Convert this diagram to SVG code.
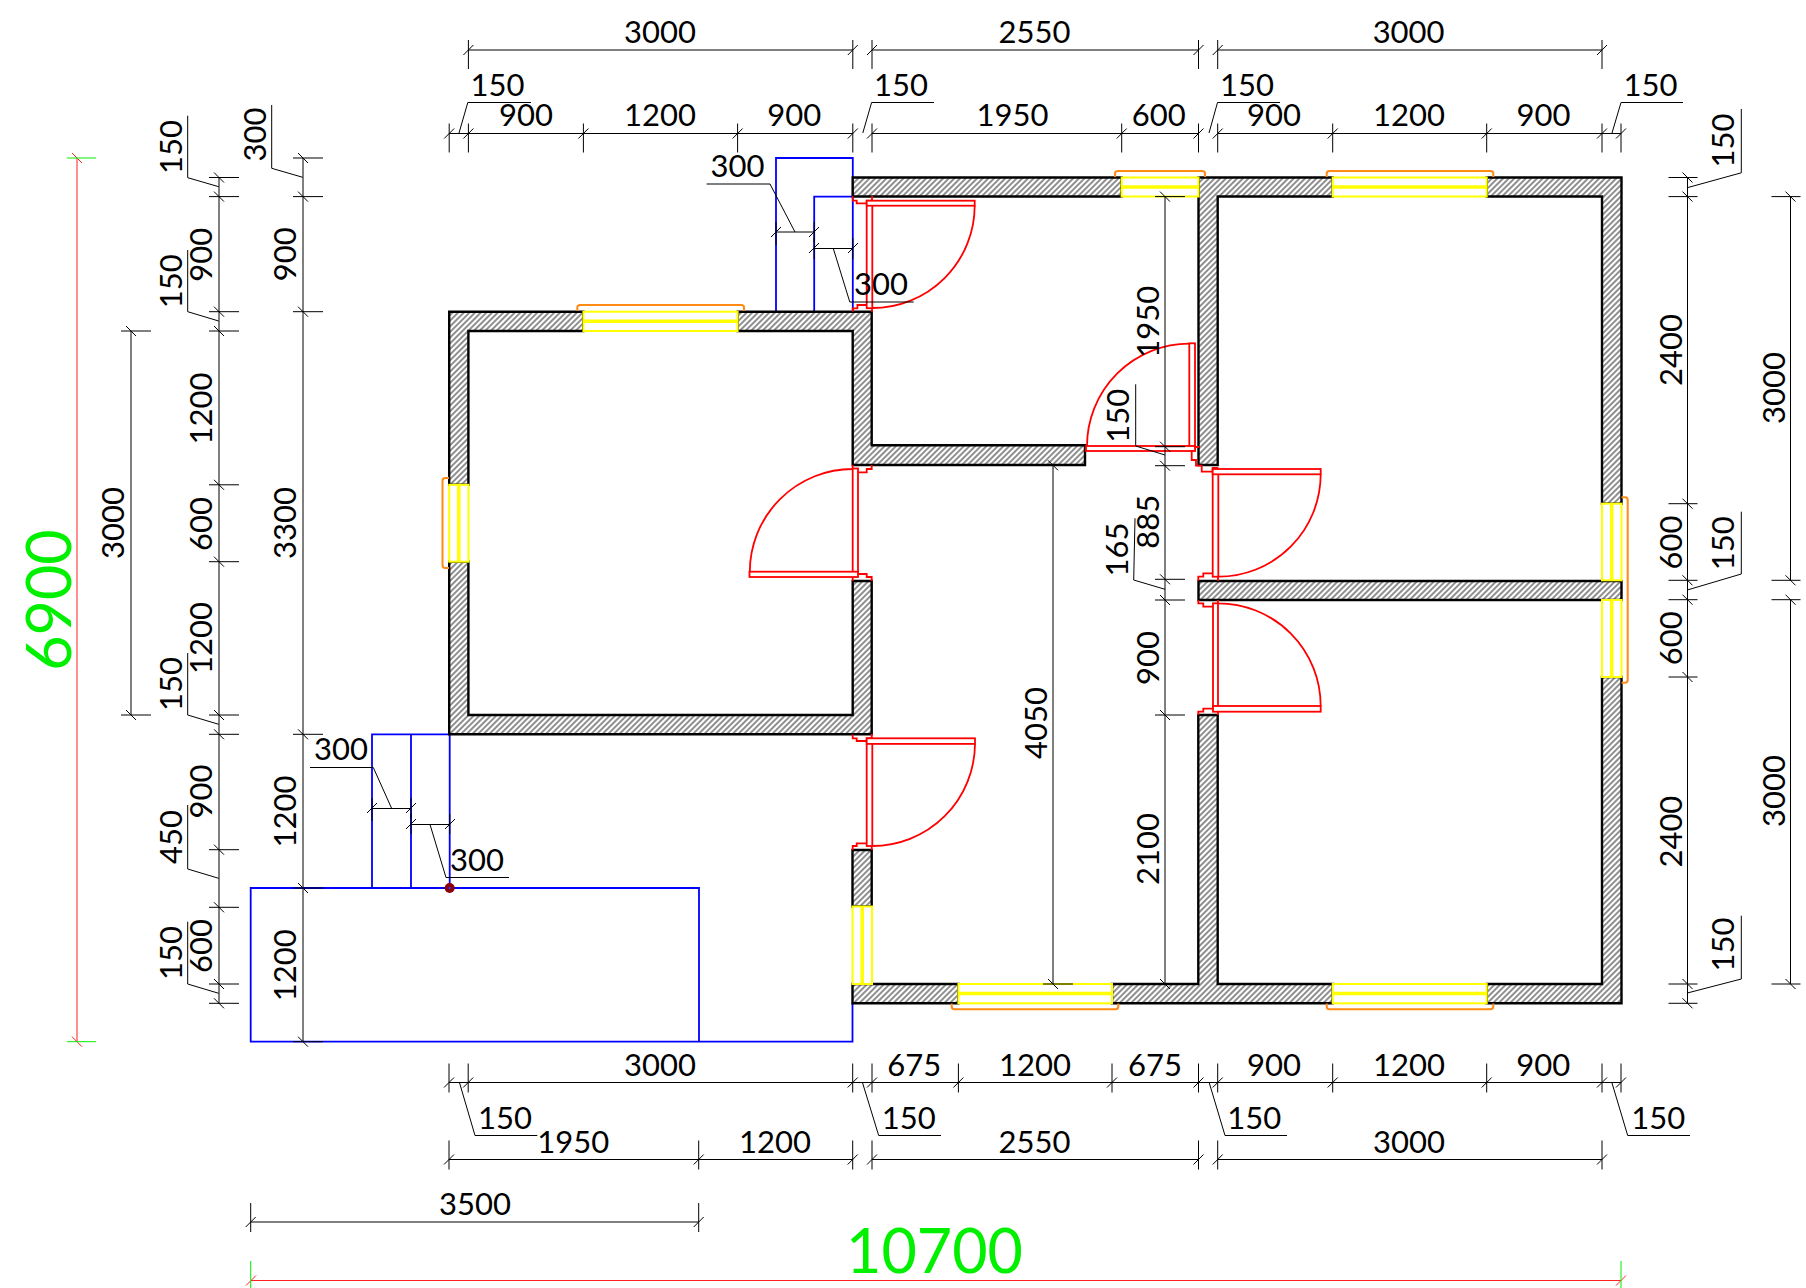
<svg xmlns="http://www.w3.org/2000/svg" xmlns:xlink="http://www.w3.org/1999/xlink" width="1806" height="1288" viewBox="0 0 1806 1288">
<style>
.t{font-family:Lato,"Liberation Sans",sans-serif;font-size:31px;text-anchor:middle;fill:#000}
.g{font-family:Lato,"Liberation Sans",sans-serif;font-size:61px;text-anchor:middle;fill:#00f000}
.w{fill:url(#hatch);stroke:#000;stroke-width:2.4}
.win{fill:#fff;stroke:#ffff00;stroke-width:2}
.mid{stroke:#ffff00;stroke-width:3.5;fill:none}
.br{fill:none;stroke:#ff8a14;stroke-width:2}
.d{fill:none;stroke:#ff0000;stroke-width:1.8}
.dr{fill:#fff;stroke:#ff0000;stroke-width:1.8}
.bl{fill:none;stroke:#0000ff;stroke-width:1.8}
.dim{fill:none;stroke:#000;stroke-width:1}
.red{fill:none;stroke:#ff2020;stroke-width:1}
.grn{fill:none;stroke:#00f000;stroke-width:1}
</style>
<defs>
<pattern id="hatch" width="4" height="4" patternUnits="userSpaceOnUse" patternTransform="rotate(-45)"><rect width="4" height="4" fill="#fff"/><rect width="4" height="2" fill="#8f8f8f"/></pattern>
<path id="ht" class="dim" d="M0-10V19M-5 5L5-5"/>
<path id="hb" class="dim" d="M0-19V10M-5 5L5-5"/>
<path id="vr" class="dim" d="M-10 0H20M-5-5L5 5"/>
<path id="vl" class="dim" d="M-19 0H10M-5-5L5 5"/>
</defs>
<rect width="1806" height="1288" fill="#fff"/>

<g id="blue-outlines">
<path class="bl" d="M776 311.7V158H852.8V311.7M814.2 311.7V196.6H852.8"/>
<path class="bl" d="M372 888V734.3H449.7V888M411 734.3V888"/>
<path class="bl" d="M250.7 888H699V1041.7H250.7ZM699 1041.7H852.5V1003"/>
</g>

<g id="walls">
<path class="w" d="M852.7 177.5H1121.7V196.5H852.7Z"/>
<path class="w" d="M1198.5 177.5H1332.7V196.5H1217.7V465H1198.5Z"/>
<path class="w" d="M1486.7 177.5H1621.5V503.7H1602V196.5H1486.7Z"/>
<path class="w" d="M1198.5 581H1621.5V600H1198.5Z"/>
<path class="w" d="M1198.3 715H1217.7V984H1332.7V1003.3H1112V984H1198.3Z"/>
<path class="w" d="M1486.7 984H1602V677H1621.5V1003.3H1486.7Z"/>
<path class="w" d="M852.5 984H958.4V1003.3H852.5Z"/>
<path class="w" d="M852.5 850H871.7V906.5H852.5Z"/>
<path class="w" d="M449.2 311.7H583.4V331H468.4V484.8H449.2Z"/>
<path class="w" d="M737.6 311.7H871.7V445.3H1085V465H852.7V331H737.6Z"/>
<path class="w" d="M449.2 561.7H468.4V715H852.7V581H871.7V734.3H449.2Z"/>
</g>

<g id="windows">
<g id="window-top-left"><rect class="win" x="583.4" y="311.7" width="154.2" height="19.3"/><path class="mid" d="M583.4 321.3H737.6"/><path class="br" d="M577.3 311V307.5Q577.3 305 580 305H741.5Q744 305 744 307.5V311"/></g>
<g id="window-top-mid"><rect class="win" x="1121.7" y="177.5" width="76.8" height="19"/><path class="mid" d="M1121.7 187H1198.5"/><path class="br" d="M1115 177V173.5Q1115 171 1118 171H1202Q1205 171 1205 173.5V177"/></g>
<g id="window-top-right"><rect class="win" x="1332.7" y="177.5" width="154" height="19"/><path class="mid" d="M1332.7 187H1486.7"/><path class="br" d="M1326.7 177V173.5Q1326.7 171 1329.5 171H1490.5Q1493.3 171 1493.3 173.5V177"/></g>
<g id="window-right-a"><rect class="win" x="1602" y="503.7" width="19.5" height="76.6"/><path class="mid" d="M1611.7 503.7V580.3"/></g>
<g id="window-right-b"><rect class="win" x="1602" y="600" width="19.5" height="77"/><path class="mid" d="M1611.7 600V677"/></g>
<path class="br" d="M1621.5 497.3H1625Q1627.7 497.3 1627.7 500V680Q1627.7 682.7 1625 682.7H1621.5"/>
<g id="window-left"><rect class="win" x="449.2" y="484.8" width="19.2" height="76.9"/><path class="mid" d="M458.8 484.8V561.7"/><path class="br" d="M449 478H445.3Q442.5 478 442.5 481V565Q442.5 568 445.3 568H449"/></g>
<g id="window-bottom-mid"><rect class="win" x="958.4" y="984" width="153.6" height="19.3"/><path class="mid" d="M958.4 993.6H1112"/><path class="br" d="M951.7 1003.5V1006.5Q951.7 1009.3 954.5 1009.3H1115.5Q1118.3 1009.3 1118.3 1006.5V1003.5"/></g>
<g id="window-bottom-right"><rect class="win" x="1332.7" y="984" width="154" height="19.3"/><path class="mid" d="M1332.7 993.6H1486.7"/><path class="br" d="M1326.7 1003.5V1006.5Q1326.7 1009.3 1329.5 1009.3H1490.5Q1493.3 1009.3 1493.3 1006.5V1003.5"/></g>
<g id="window-lower-left"><rect class="win" x="852.5" y="906.5" width="19.5" height="77.5"/><path class="mid" d="M862.2 906.5V984"/></g>
</g>

<g id="doors">
<g id="door-1"><rect class="dr" x="852.7" y="468.5" width="5.3" height="105"/><rect class="dr" x="749.5" y="571.7" width="108.5" height="5.3"/><path class="d" d="M852.7 469A103 103 0 0 0 749.8 571.7M871.7 465V469H866.7V472.3H858M871.7 581V577H866.7V574H858M852.7 581V577M852.7 465V468.5"/></g>
<g id="door-2"><rect class="dr" x="866.7" y="738.3" width="5.6" height="107.7"/><rect class="dr" x="866.7" y="738.3" width="108.3" height="5.6"/><path class="d" d="M975 744A102.7 102.7 0 0 1 872.3 846M852.7 734.5V738.3H856.7V741H866.7M852.7 850V846H856.7V843.3H866.7M871.7 734V738M871.7 850V846"/></g>
<g id="door-3"><rect class="dr" x="866.7" y="200.7" width="5.6" height="107.5"/><rect class="dr" x="866.7" y="200.7" width="108" height="5"/><path class="d" d="M974.7 205.7A102.5 102.5 0 0 1 872.3 308M852.7 196V200.7H856.7V203.3H866.7M852.7 311.7V308.3H857.4V305H866.7M872 196V200.7M872 311.7V308.3"/></g>
<g id="door-4"><rect class="dr" x="1189.3" y="343.3" width="5.7" height="107"/><rect class="dr" x="1086" y="446" width="109" height="5"/><path class="d" d="M1189.3 343.7A102.5 102.5 0 0 0 1087 446M1191.7 450V460H1196V465.7H1201.7V471.7H1212.7V468H1218.3M1195 447H1199.3"/></g>
<g id="door-5"><rect class="dr" x="1212.7" y="469" width="5.6" height="107.7"/><rect class="dr" x="1212.7" y="469" width="108" height="5.3"/><path class="d" d="M1320.7 474.3A102.5 102.5 0 0 1 1218.3 576.7M1198.3 581V576.7H1203.3V573.3H1212.7M1218 581V576.7"/></g>
<g id="door-6"><rect class="dr" x="1213" y="603.3" width="5" height="103.4"/><rect class="dr" x="1213" y="706" width="107.7" height="5.7"/><path class="d" d="M1218 603.3A102.7 102.7 0 0 1 1320.7 706M1198.3 600V603.3H1203.3V606.7H1213M1198.3 715V711.7H1203.3V708.7H1213M1218 715V711.7M1218 600V603.3"/></g>
</g>

<g id="dimensions">
<path class="dim" d="M468.4 50H852.8M872 50H1198.5M1217.7 50H1602"/>
<path class="dim" d="M449.2 133.5H852.8M872 133.5H1198.5M1217.7 133.5H1621"/>
<path class="dim" d="M449 1082.5H1621M449 1159.5H852.7M872 1159.5H1198.5M1217.7 1159.5H1602M250.7 1222H698.7"/>
<path class="dim" d="M219 177.5V1003.3M303 158V1041.7M131 331V715M1687.5 177.5V1003.3M1790.5 196.6V580.3M1790.5 599.7V984M1165 196.6V984M1053 465V984"/>
<path class="dim" d="M776 232H814.2M814.2 248.5H852.8M372 808.5H411M411 824.5H449.7"/>
<path class="dim" d="M776 222V245M814.2 222V242M814.2 238V259M852.8 238V259M372 798V821M411 798V818M411 814V834M449.7 814V834M771 237L781 227M809 237L819 227M809 253L819 243M848 253L858 243M367 813L377 803M406 813L416 803M406 829L416 819M445 829L455 819"/>
<g id="leaders">
<path class="dim" d="M459 133L467.8 102.5H531M862.8 133L871.6 102.5H934M1209 133L1217.5 102.5H1280M1612 133L1621 102.5H1683"/>
<path class="dim" d="M459.3 1082L475 1135.5H537.3M862.3 1082L878.7 1135.5H941M1209 1082L1225 1135.5H1287M1611.7 1082L1627.7 1135.5H1690"/>
<path class="dim" d="M187.7 115.7V177.7L218.7 186.7M187.7 250V311.7L218.7 321M187.7 653V715L218.7 724.3M187.7 805V869L218.7 878.3M187.7 921.7V984L218.7 993.3M271.7 105V168.3L302.7 177.3"/>
<path class="dim" d="M1741.3 109V172.8L1687.3 187.7M1741.3 511.7V574L1687.3 590M1741.3 915.7V979L1687.3 993"/>
<path class="dim" d="M1135.7 384.3V446L1165 455M1135 518.3L1133.7 580L1165 589.3"/>
<path class="dim" d="M795 232L770 184H706.6M833.3 248.5L849.8 302H913.7M391.7 808.5L373.3 767.5H310M430 824.5L446 877.5H509"/>
</g>
<use href="#ht" x="468.4" y="50"/><use href="#ht" x="852.8" y="50"/><use href="#ht" x="872" y="50"/><use href="#ht" x="1198.5" y="50"/><use href="#ht" x="1217.7" y="50"/><use href="#ht" x="1602" y="50"/>
<use href="#ht" x="449.2" y="133.5"/><use href="#ht" x="468.4" y="133.5"/><use href="#ht" x="583.4" y="133.5"/><use href="#ht" x="737.6" y="133.5"/><use href="#ht" x="852.8" y="133.5"/><use href="#ht" x="872" y="133.5"/><use href="#ht" x="1121.7" y="133.5"/><use href="#ht" x="1198.5" y="133.5"/><use href="#ht" x="1217.7" y="133.5"/><use href="#ht" x="1332.7" y="133.5"/><use href="#ht" x="1486.7" y="133.5"/><use href="#ht" x="1602" y="133.5"/><use href="#ht" x="1621" y="133.5"/>
<use href="#hb" x="449" y="1082.5"/><use href="#hb" x="468.2" y="1082.5"/><use href="#hb" x="852.7" y="1082.5"/><use href="#hb" x="872" y="1082.5"/><use href="#hb" x="958.4" y="1082.5"/><use href="#hb" x="1112" y="1082.5"/><use href="#hb" x="1198.5" y="1082.5"/><use href="#hb" x="1217.7" y="1082.5"/><use href="#hb" x="1332.7" y="1082.5"/><use href="#hb" x="1486.7" y="1082.5"/><use href="#hb" x="1602" y="1082.5"/><use href="#hb" x="1621" y="1082.5"/>
<use href="#hb" x="449" y="1159.5"/><use href="#hb" x="698.7" y="1159.5"/><use href="#hb" x="852.7" y="1159.5"/><use href="#hb" x="872" y="1159.5"/><use href="#hb" x="1198.5" y="1159.5"/><use href="#hb" x="1217.7" y="1159.5"/><use href="#hb" x="1602" y="1159.5"/>
<use href="#hb" x="250.7" y="1222"/><use href="#hb" x="698.7" y="1222"/>
<use href="#vr" x="219" y="177.5"/><use href="#vr" x="219" y="196.6"/><use href="#vr" x="219" y="311.7"/><use href="#vr" x="219" y="331"/><use href="#vr" x="219" y="484.8"/><use href="#vr" x="219" y="561.7"/><use href="#vr" x="219" y="715"/><use href="#vr" x="219" y="734.3"/><use href="#vr" x="219" y="849.7"/><use href="#vr" x="219" y="907.3"/><use href="#vr" x="219" y="984"/><use href="#vr" x="219" y="1003.3"/>
<use href="#vr" x="303" y="158"/><use href="#vr" x="303" y="196.6"/><use href="#vr" x="303" y="311.7"/><use href="#vr" x="303" y="734.3"/><use href="#vr" x="303" y="888"/><use href="#vr" x="303" y="1041.7"/>
<use href="#vr" x="131" y="331"/><use href="#vr" x="131" y="715"/>
<use href="#vl" x="1687.5" y="177.5"/><use href="#vl" x="1687.5" y="196.6"/><use href="#vl" x="1687.5" y="503.7"/><use href="#vl" x="1687.5" y="580.3"/><use href="#vl" x="1687.5" y="599.7"/><use href="#vl" x="1687.5" y="677"/><use href="#vl" x="1687.5" y="984"/><use href="#vl" x="1687.5" y="1003.3"/>
<use href="#vl" x="1790.5" y="196.6"/><use href="#vl" x="1790.5" y="580.3"/><use href="#vl" x="1790.5" y="599.7"/><use href="#vl" x="1790.5" y="984"/>
<use href="#vr" x="1165" y="196.6"/><use href="#vr" x="1165" y="446.7"/><use href="#vr" x="1165" y="465.7"/><use href="#vr" x="1165" y="579.3"/><use href="#vr" x="1165" y="600"/><use href="#vr" x="1165" y="715"/><use href="#vr" x="1165" y="984"/>
<use href="#vr" x="1053" y="465.3"/><use href="#vr" x="1053" y="984"/>
</g>

<g id="overall-dimensions">
<path class="red" d="M250.7 1280.5H1621M77 158V1041.7M246 1285.5L256 1275.5"/>
<path class="red" d="M1616 1285.5L1626 1275.5M72 153L82 163M72 1036.7L82 1046.7"/>
<path class="grn" d="M250.7 1261V1288M1621 1261V1288M67 158H96M67 1041.7H96"/>
</g>

<g id="control-point"><circle cx="449.7" cy="888" r="5" fill="#8b0000"/><circle cx="449.7" cy="888" r="1.2" fill="#3030ff"/></g>

<g id="labels">
<text class="t" x="660" y="42.5">3000</text><text class="t" x="1034.5" y="42.5">2550</text><text class="t" x="1408.6" y="42.5">3000</text>
<text class="t" x="497.5" y="96">150</text><text class="t" x="901" y="96">150</text><text class="t" x="1247" y="96">150</text><text class="t" x="1650.5" y="96">150</text>
<text class="t" x="526" y="125.5">900</text><text class="t" x="660" y="125.5">1200</text><text class="t" x="794.3" y="125.5">900</text><text class="t" x="1012.4" y="125.5">1950</text><text class="t" x="1158.7" y="125.5">600</text><text class="t" x="1274" y="125.5">900</text><text class="t" x="1409" y="125.5">1200</text><text class="t" x="1543.4" y="125.5">900</text>
<text class="t" x="737.6" y="176.7">300</text><text class="t" x="881" y="294.5">300</text><text class="t" x="341" y="760">300</text><text class="t" x="477" y="870.5">300</text>
<text class="t" x="660" y="1076">3000</text><text class="t" x="914.3" y="1076">675</text><text class="t" x="1035" y="1076">1200</text><text class="t" x="1155" y="1076">675</text><text class="t" x="1274" y="1076">900</text><text class="t" x="1409" y="1076">1200</text><text class="t" x="1543.3" y="1076">900</text>
<text class="t" x="505" y="1129">150</text><text class="t" x="908.8" y="1129">150</text><text class="t" x="1254.3" y="1129">150</text><text class="t" x="1658.3" y="1129">150</text>
<text class="t" x="573.3" y="1152.7">1950</text><text class="t" x="775" y="1152.7">1200</text><text class="t" x="1034.5" y="1152.7">2550</text><text class="t" x="1409" y="1152.7">3000</text>
<text class="t" x="475" y="1215">3500</text>
<text class="g" x="934.5" y="1273">10700</text>
<text class="g" transform="rotate(-90 71 600)" x="71" y="600">6900</text>
<text class="t" transform="rotate(-90 182.3 147)" x="182.3" y="147">150</text>
<text class="t" transform="rotate(-90 182.3 281.3)" x="182.3" y="281.3">150</text>
<text class="t" transform="rotate(-90 182.3 684)" x="182.3" y="684">150</text>
<text class="t" transform="rotate(-90 182.3 837)" x="182.3" y="837">450</text>
<text class="t" transform="rotate(-90 182.3 953)" x="182.3" y="953">150</text>
<text class="t" transform="rotate(-90 212.3 254.7)" x="212.3" y="254.7">900</text>
<text class="t" transform="rotate(-90 212.3 408.5)" x="212.3" y="408.5">1200</text>
<text class="t" transform="rotate(-90 212.3 524)" x="212.3" y="524">600</text>
<text class="t" transform="rotate(-90 212.3 638)" x="212.3" y="638">1200</text>
<text class="t" transform="rotate(-90 212.3 791.5)" x="212.3" y="791.5">900</text>
<text class="t" transform="rotate(-90 212.3 946)" x="212.3" y="946">600</text>
<text class="t" transform="rotate(-90 265.7 134.5)" x="265.7" y="134.5">300</text>
<text class="t" transform="rotate(-90 296 254.3)" x="296" y="254.3">900</text>
<text class="t" transform="rotate(-90 296 523)" x="296" y="523">3300</text>
<text class="t" transform="rotate(-90 296 811.5)" x="296" y="811.5">1200</text>
<text class="t" transform="rotate(-90 296 965.3)" x="296" y="965.3">1200</text>
<text class="t" transform="rotate(-90 123.5 523)" x="123.5" y="523">3000</text>
<text class="t" transform="rotate(-90 1159.3 321.7)" x="1159.3" y="321.7">1950</text>
<text class="t" transform="rotate(-90 1129.3 415.8)" x="1129.3" y="415.8">150</text>
<text class="t" transform="rotate(-90 1159.3 521.7)" x="1159.3" y="521.7">885</text>
<text class="t" transform="rotate(-90 1128.3 549.5)" x="1128.3" y="549.5">165</text>
<text class="t" transform="rotate(-90 1159.3 658)" x="1159.3" y="658">900</text>
<text class="t" transform="rotate(-90 1159.3 849)" x="1159.3" y="849">2100</text>
<text class="t" transform="rotate(-90 1047 723)" x="1047" y="723">4050</text>
<text class="t" transform="rotate(-90 1681.7 350)" x="1681.7" y="350">2400</text>
<text class="t" transform="rotate(-90 1681.7 542.5)" x="1681.7" y="542.5">600</text>
<text class="t" transform="rotate(-90 1681.7 638.3)" x="1681.7" y="638.3">600</text>
<text class="t" transform="rotate(-90 1681.7 831.6)" x="1681.7" y="831.6">2400</text>
<text class="t" transform="rotate(-90 1734.3 140.5)" x="1734.3" y="140.5">150</text>
<text class="t" transform="rotate(-90 1734.3 543.3)" x="1734.3" y="543.3">150</text>
<text class="t" transform="rotate(-90 1734.3 944.5)" x="1734.3" y="944.5">150</text>
<text class="t" transform="rotate(-90 1784.5 388)" x="1784.5" y="388">3000</text>
<text class="t" transform="rotate(-90 1784.5 791)" x="1784.5" y="791">3000</text>
</g>
</svg>
